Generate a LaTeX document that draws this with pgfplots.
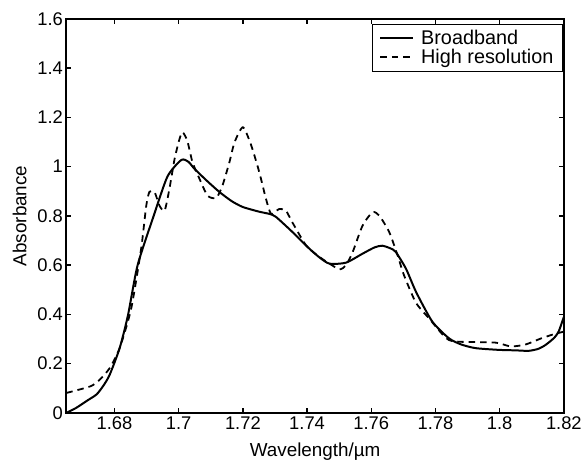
\documentclass[border=0pt]{standalone}
\usepackage{pgfplots}
\pgfplotsset{compat=1.18}
\usepackage{fontspec}
\setmainfont{Liberation Sans}
\begin{document}
\begin{tikzpicture}
\begin{axis}[
  scale only axis,
  width=500bp, height=396bp,
  xmin=1.665, xmax=1.82, ymin=0, ymax=1.6,
  xtick={1.68,1.70,...,1.821},
  ytick={0,0.2,...,1.61},
  tick align=inside,
  major tick length=5bp,
  axis line style={line width=2bp},
  every tick/.style={line width=1.5bp, black},
  /pgf/number format/assume math mode=true,
  /pgf/number format/fixed,
  ticklabel style={font=\fontsize{18.5}{20}\selectfont},
  label style={font=\fontsize{19}{20}\selectfont},
  xlabel={Wavelength/\textmu m},
  ylabel={Absorbance},
  xlabel style={yshift=-7bp},
  ylabel style={yshift=4bp},
  legend style={at={(0.997,0.987)}, anchor=north east, draw=black, line width=0.8bp,
    outer sep=0pt,
    font=\fontsize{20}{21}\selectfont, inner xsep=7bp, inner ysep=4.5bp, row sep=-1bp, cells={anchor=west},
    /tikz/every odd column/.append style={column sep=5bp}},
  legend image code/.code={\draw[#1, line width=2bp] (0bp,0bp) -- (33bp,0bp);},
]
\addplot[black, line width=2bp, smooth, tension=0.4] coordinates {
(1.665,0.0) (1.668,0.02) (1.6715,0.05) (1.6744,0.075) (1.6765,0.11) (1.6785,0.155)
(1.6816,0.263) (1.6842,0.397) (1.6872,0.6) (1.6922,0.8) (1.6965,0.96) (1.7008,1.027)
(1.7030,1.02) (1.7050,0.99) (1.7090,0.94) (1.7127,0.897) (1.7165,0.86) (1.7200,0.836)
(1.7251,0.817) (1.7283,0.808) (1.7303,0.796) (1.7354,0.735) (1.7407,0.667) (1.7440,0.63)
(1.7470,0.606) (1.7521,0.610) (1.7572,0.646) (1.7610,0.672) (1.7634,0.679) (1.7660,0.668)
(1.7676,0.654) (1.7708,0.586) (1.7740,0.49) (1.7790,0.371) (1.7842,0.303) (1.7880,0.278)
(1.7925,0.263) (1.7997,0.256) (1.8050,0.254) (1.8090,0.252) (1.8120,0.26) (1.8143,0.276)
(1.8170,0.305) (1.8184,0.331) (1.8200,0.39)
};
\addlegendentry{Broadband}
\addplot[black, line width=1.8bp, dash pattern=on 6.5bp off 5bp, smooth, tension=0.4] coordinates {
(1.665,0.081) (1.6725,0.108) (1.6754,0.135) (1.6785,0.182) (1.6816,0.263) (1.6852,0.424)
(1.6883,0.667) (1.6899,0.842) (1.6909,0.898) (1.6925,0.896) (1.6940,0.842) (1.6956,0.821)
(1.6971,0.909) (1.6987,1.03) (1.7002,1.11) (1.7012,1.14) (1.7027,1.104) (1.7043,1.018)
(1.7065,0.95) (1.7090,0.882) (1.7117,0.873) (1.7136,0.922) (1.7158,1.018) (1.7174,1.099)
(1.7200,1.16) (1.7225,1.09) (1.7251,0.978) (1.7272,0.869) (1.7288,0.808) (1.7313,0.828)
(1.7334,0.821) (1.7354,0.774) (1.7397,0.680) (1.7438,0.634) (1.7470,0.606) (1.7501,0.583)
(1.7521,0.599) (1.7542,0.653) (1.7573,0.761) (1.7604,0.815) (1.7625,0.801) (1.7656,0.734)
(1.7682,0.640) (1.7702,0.559) (1.7739,0.448) (1.7780,0.384) (1.7842,0.296) (1.7925,0.288)
(1.7990,0.285) (1.8035,0.270) (1.8081,0.278) (1.8130,0.303) (1.8170,0.320) (1.8200,0.33)
};
\addlegendentry{High resolution}
\end{axis}
\path ([shift={(-66.7bp,-45bp)}]current axis.south west) rectangle ([shift={(18.3bp,19bp)}]current axis.north east);
\end{tikzpicture}
\end{document}
